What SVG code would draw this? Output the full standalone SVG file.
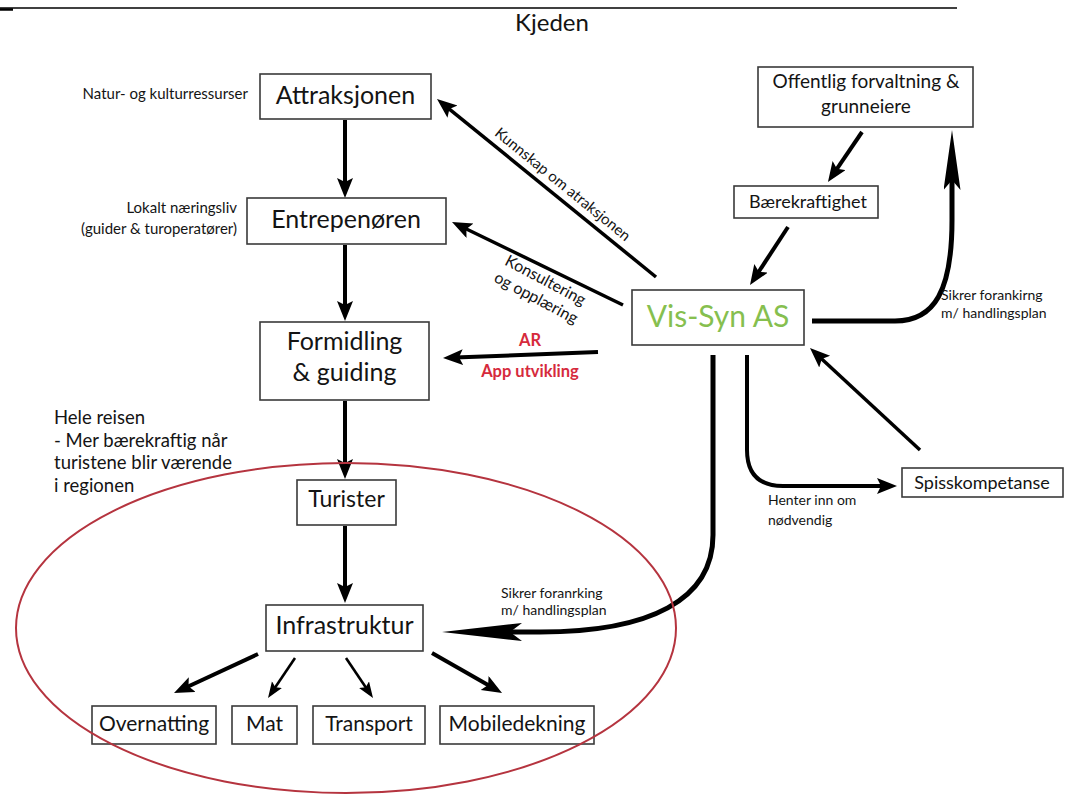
<svg xmlns="http://www.w3.org/2000/svg" width="1066" height="796" viewBox="0 0 1066 796">
  <style>
    .box { fill: #fff; stroke: #3a3a3a; stroke-width: 1.6; }
    .t { font-family: Lato, "Open Sans", sans-serif; fill: #141414; }
    .c { text-anchor: middle; }
    .big { font-size: 25px; }
    .mid { font-size: 21px; }
    .sm { font-size: 15px; }
    .note { font-size: 14px; }
    .red { fill: #d62a3c; font-weight: bold; font-size: 16.5px; text-anchor: middle; }
    .ln { fill: none; stroke: #000; stroke-width: 4; }
    .ln3 { fill: none; stroke: #000; stroke-width: 3.5; }
    .ln2 { fill: none; stroke: #000; stroke-width: 2.6; }
    .cv { fill: none; stroke: #000; stroke-width: 5; }
  </style>
  <defs>
    <marker id="arr" markerUnits="userSpaceOnUse" markerWidth="22" markerHeight="18" refX="8" refY="8" orient="auto">
      <path d="M0,0 L20,8 L0,16 L4,8 z" fill="#000"/>
    </marker>
    <marker id="arrs" markerUnits="userSpaceOnUse" markerWidth="18" markerHeight="14" refX="6" refY="6" orient="auto">
      <path d="M0,0 L16,6 L0,12 L3,6 z" fill="#000"/>
    </marker>
    <marker id="long60" markerUnits="userSpaceOnUse" markerWidth="62" markerHeight="18" refX="16" refY="8.5" orient="auto">
      <path d="M0,0 L60,8.5 L0,17 L10,8.5 z" fill="#000"/>
    </marker>
    <marker id="long80" markerUnits="userSpaceOnUse" markerWidth="82" markerHeight="19" refX="20" refY="9" orient="auto">
      <path d="M0,0 L80,9 L0,18 L12,9 z" fill="#000"/>
    </marker>
  </defs>

  <rect width="1066" height="796" fill="#fff"/>

  <!-- header rule and title -->
  <line x1="0" y1="8" x2="957" y2="8" stroke="#000" stroke-width="1.4"/>
  <line x1="0" y1="9.5" x2="13" y2="9.5" stroke="#000" stroke-width="2.5"/>
  <text class="t c" x="552" y="31" font-size="24">Kjeden</text>

  <!-- side notes -->
  <text class="t sm" x="248" y="99" text-anchor="end">Natur- og kulturressurser</text>
  <text class="t sm" x="237" y="213" text-anchor="end">Lokalt næringsliv</text>
  <text class="t sm" x="237" y="234" text-anchor="end">(guider &amp; turoperatører)</text>
  <text class="t" font-size="18.5" x="54" y="424">Hele reisen</text>
  <text class="t" font-size="18.5" x="54" y="447">- Mer bærekraftig når</text>
  <text class="t" font-size="18.5" x="54" y="469">turistene blir værende</text>
  <text class="t" font-size="18.5" x="54" y="492">i regionen</text>

  <!-- connectors -->
  <g id="connectors">
    <line class="ln" x1="345" y1="120" x2="345" y2="186" marker-end="url(#arr)"/>
    <line class="ln" x1="345" y1="245" x2="345" y2="309" marker-end="url(#arr)"/>
    <line class="ln" x1="345" y1="401" x2="345" y2="467" marker-end="url(#arr)"/>
    <line class="ln" x1="345" y1="526" x2="345" y2="591" marker-end="url(#arr)"/>

    <!-- Infrastruktur fan-out -->
    <line class="ln" x1="258" y1="654" x2="184.9" y2="688" marker-end="url(#arr)"/>
    <line class="ln2" x1="295" y1="658" x2="273.6" y2="689.7" marker-end="url(#arrs)"/>
    <line class="ln2" x1="346" y1="658" x2="367.4" y2="689.7" marker-end="url(#arrs)"/>
    <line class="ln" x1="432" y1="653" x2="491.6" y2="687" marker-end="url(#arr)"/>

    <line class="ln3" x1="656" y1="277" x2="446.3" y2="106.6" marker-end="url(#arr)"/>
    <line class="ln3" x1="623" y1="305" x2="462.8" y2="227.2" marker-end="url(#arr)"/>
    <line class="ln" x1="598" y1="352" x2="455" y2="357.5" marker-end="url(#arr)"/>

    <line class="ln" x1="862" y1="132" x2="834.7" y2="172.1" marker-end="url(#arr)"/>
    <line class="ln" x1="788" y1="227" x2="756.6" y2="275" marker-end="url(#arr)"/>
    <line class="ln3" x1="920" y1="450" x2="818.8" y2="356.2" marker-end="url(#arr)"/>

    <path class="ln" d="M747,355 L747,450 Q747,486 783,486 L885,486" marker-end="url(#arr)"/>
    <path class="cv" d="M812,321 L895,321 C935,321 952,290 952,220 L952,174" marker-end="url(#long60)"/>
    <path class="cv" d="M713,355 L713,535 C713,600 650,632 540,632 L502,632" marker-end="url(#long80)"/>

    <!-- connector labels -->
    <text class="t sm" font-size="16" text-anchor="middle" transform="translate(559.5,188.2) rotate(39.1)">Kunnskap om atraksjonen</text>
    <g transform="translate(543,285) rotate(28)">
      <text class="t c" font-size="16"><tspan x="0" y="0">Konsultering</tspan><tspan x="0" y="20">og opplæring</tspan></text>
    </g>
    <text class="t red" x="530" y="346">AR</text>
    <text class="t red" x="530" y="377">App utvikling</text>
    <text class="t note" x="941" y="300">Sikrer forankirng</text>
    <text class="t note" x="941" y="318">m/ handlingsplan</text>
    <text class="t note" x="768" y="505">Henter inn om</text>
    <text class="t note" x="768" y="525">nødvendig</text>
    <text class="t note" x="501" y="598">Sikrer foranrking</text>
    <text class="t note" x="501" y="615">m/ handlingsplan</text>
  </g>

  <!-- nodes -->
  <g id="attraksjonen">
    <rect class="box" x="260" y="74" width="171" height="45"/>
    <text class="t c big" x="345.5" y="104">Attraksjonen</text>
  </g>
  <g id="entreprenoren">
    <rect class="box" x="247" y="198" width="199" height="46"/>
    <text class="t c big" x="346" y="228">Entrepenøren</text>
  </g>
  <g id="formidling">
    <rect class="box" x="260" y="322" width="169" height="78"/>
    <text class="t c big" x="344.5" y="350">Formidling</text>
    <text class="t c big" x="344.5" y="381">&amp; guiding</text>
  </g>
  <g id="turister">
    <rect class="box" x="297" y="480" width="99" height="45"/>
    <text class="t c" font-size="23" x="346.5" y="507">Turister</text>
  </g>
  <g id="infrastruktur">
    <rect class="box" x="266" y="605" width="157" height="46"/>
    <text class="t c big" x="344.5" y="634">Infrastruktur</text>
  </g>
  <g id="overnatting">
    <rect class="box" x="92" y="706" width="124" height="38"/>
    <text class="t c mid" x="154" y="731">Overnatting</text>
  </g>
  <g id="mat">
    <rect class="box" x="232" y="706" width="65" height="38"/>
    <text class="t c mid" x="264.5" y="731">Mat</text>
  </g>
  <g id="transport">
    <rect class="box" x="313" y="706" width="112" height="38"/>
    <text class="t c mid" x="369" y="731">Transport</text>
  </g>
  <g id="mobiledekning">
    <rect class="box" x="440" y="706" width="154" height="38"/>
    <text class="t c mid" x="517" y="731">Mobiledekning</text>
  </g>
  <g id="offentlig">
    <rect class="box" x="758" y="67" width="215" height="60"/>
    <text class="t c" font-size="19" x="866" y="88">Offentlig forvaltning &amp;</text>
    <text class="t c" font-size="19" x="866" y="113">grunneiere</text>
  </g>
  <g id="baerekraftighet">
    <rect class="box" x="734" y="186" width="144" height="32"/>
    <text class="t c" font-size="18" x="808" y="208">Bærekraftighet</text>
  </g>
  <g id="vis-syn">
    <rect class="box" x="632" y="290" width="172" height="55"/>
    <text class="t c" font-size="30" style="fill:#86bf4f" x="718" y="327">Vis-Syn AS</text>
  </g>
  <g id="spisskompetanse">
    <rect class="box" x="902" y="468" width="161" height="29"/>
    <text class="t c" font-size="18" x="982" y="489">Spisskompetanse</text>
  </g>

  <!-- region boundary -->
  <ellipse cx="346" cy="628" rx="330" ry="165" fill="none" stroke="#b5343f" stroke-width="2"/>
</svg>
